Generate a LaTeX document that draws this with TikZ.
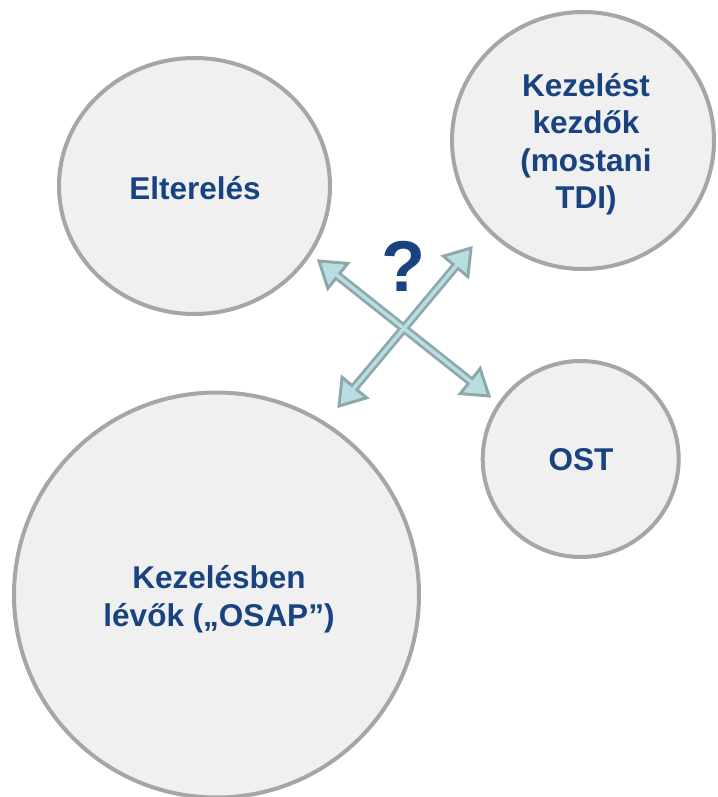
\documentclass[tikz,border=0pt]{standalone}
\usepackage{fontspec}
\setmainfont{Liberation Sans}
\usetikzlibrary{calc,shapes.geometric}
\definecolor{txtblue}{RGB}{24,66,128}
\definecolor{circfill}{RGB}{240,240,240}
\definecolor{circline}{RGB}{166,166,166}
\definecolor{arrline}{RGB}{142,168,171}
\definecolor{arrfill}{RGB}{185,222,226}
\begin{document}
\begin{tikzpicture}[x=1pt,y=-1pt,
  bubble/.style={ellipse, draw=circline, fill=circfill, line width=4pt, inner sep=0pt},
  lbl/.style={font=\bfseries\fontsize{31.5}{37.5}\selectfont, text=txtblue, align=center, inner sep=0pt},
  shaftout/.style={draw=arrline, line width=9pt},
  shaftin/.style={draw=arrfill, line width=3.5pt},
  headbox/.style={fill=arrfill, draw=arrline, line width=3pt, line join=miter},
  qmark/.style={font=\bfseries\fontsize{72}{72}\selectfont, text=txtblue, inner sep=0pt}
]
\useasboundingbox (0,0) rectangle (717,797);

\node[bubble, minimum width=271pt, minimum height=256pt] (elt) at (194.5,186) {};
\node[bubble, minimum width=262pt, minimum height=257pt] (kez) at (583,140.5) {};
\node[bubble, minimum size=196pt] (ost) at (580.7,459) {};
\node[bubble, minimum size=405pt] (osap) at (216.5,595) {};

\node[lbl] (eltt) at (195,188) {Elterelés};
\node[lbl] (kezt) at (586,144) {Kezelést\\kezdők\\(mostani\\TDI)};
\node[lbl] (ostt) at (581,460) {OST};
\node[lbl] (osapt) at (219,599) {Kezelésben\\lévők („OSAP”)};

\node[qmark] (q) at (403,266) {?};

% arrow end points (tips)
\coordinate (a1) at (319,261);
\coordinate (b1) at (489,396);
\coordinate (a2) at (339,406);
\coordinate (b2) at (471,248);

% base points of heads
\coordinate (a1b) at ($(a1)!24pt!(b1)$);
\coordinate (b1b) at ($(b1)!24pt!(a1)$);
\coordinate (a2b) at ($(a2)!24pt!(b2)$);
\coordinate (b2b) at ($(b2)!24pt!(a2)$);

% outer shafts
\draw[shaftout] (a1b) -- (b1b);
\draw[shaftout] (a2b) -- (b2b);

% heads
\foreach \t/\b in {a1/a1b, b1/b1b, a2/a2b, b2/b2b}{
  \draw[headbox] (\t) -- ($(\b)!16pt!90:(\t)$) -- ($(\b)!16pt!-90:(\t)$) -- cycle;
}

% inner shafts
\draw[shaftin] ($(a1)!19pt!(b1)$) -- ($(b1)!19pt!(a1)$);
\draw[shaftin] ($(a2)!19pt!(b2)$) -- ($(b2)!19pt!(a2)$);
\end{tikzpicture}
\end{document}
